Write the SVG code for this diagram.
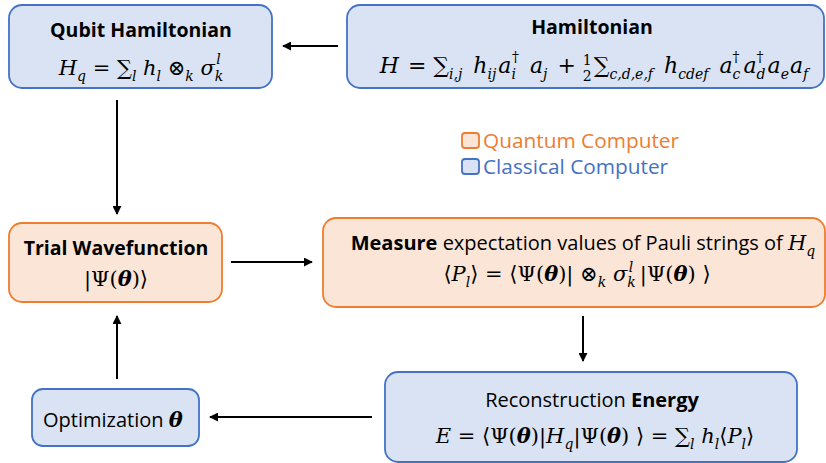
<svg xmlns="http://www.w3.org/2000/svg" width="826" height="463" viewBox="0 0 826 463">
<style>
.blue{fill:#DAE3F3;stroke:#4472C4;stroke-width:1.8}
.orange{fill:#FBE5D6;stroke:#ED7D31;stroke-width:1.8}
.t{font-family:"Open Sans","Noto Sans",sans-serif;font-size:20px;fill:#000}
.lg{font-size:20.8px}
.h{font-size:19.5px;font-weight:bold}
.b{font-weight:bold}
.m{font-family:"DejaVu Serif","Liberation Serif",serif;font-size:21px;fill:#000}
.m22{font-size:22px}
.i{font-style:italic}
.s{font-size:14px}
.bi{font-weight:bold;font-style:italic}
.conn line{stroke:#000;stroke-width:2}
</style>
<defs>
<marker id="ah" viewBox="0 0 10 10" refX="9" refY="5" markerWidth="4.5" markerHeight="4.5" orient="auto" markerUnits="strokeWidth">
<path d="M0,0 L10,5 L0,10 Z" fill="#000"/>
</marker>
</defs>

<g id="qubit-hamiltonian">
<rect class="blue" x="9" y="5" width="263" height="83" rx="13"/>
<text class="t h" x="141" y="37" text-anchor="middle">Qubit Hamiltonian</text>
<text class="m" x="141" y="75" text-anchor="middle"><tspan class="i">H</tspan><tspan class="s i" dy="6">q</tspan><tspan dy="-6"> = ∑</tspan><tspan class="s i" dy="6">l</tspan><tspan class="i" dy="-6"> h</tspan><tspan class="s i" dy="6">l</tspan><tspan dy="-6"> ⊗</tspan><tspan class="s i" dy="6">k</tspan><tspan class="i" dy="-6"> σ</tspan><tspan class="s i" dy="6">k</tspan><tspan class="s i" dx="-7" dy="-17">l</tspan></text>
</g>

<g id="hamiltonian">
<rect class="blue" x="347" y="5" width="477" height="83" rx="13"/>
<text class="t h" x="592" y="34" text-anchor="middle">Hamiltonian</text>
<text class="m m22" x="594" y="73" text-anchor="middle"><tspan class="i">H</tspan><tspan dx="2"> = ∑</tspan><tspan class="s i" dy="6">i,j</tspan><tspan class="i" dy="-6" dx="4"> h</tspan><tspan class="s i" dy="6">ij</tspan><tspan class="i" dy="-6" dx="2">a</tspan><tspan class="s i" dy="6">i</tspan><tspan class="s" dx="-4" dy="-17">†</tspan><tspan class="i" dy="11" dx="4"> a</tspan><tspan class="s i" dy="6">j</tspan><tspan dy="-6" dx="3"> +  </tspan><tspan class="s" dy="-8">1</tspan><tspan class="s" dx="-9" dy="16">2</tspan><tspan dy="-8" dx="2">∑</tspan><tspan class="s i" dy="6">c,d,e,f</tspan><tspan class="i" dy="-6" dx="4"> h</tspan><tspan class="s i" dy="6">cdef</tspan><tspan class="i" dy="-6" dx="4"> a</tspan><tspan class="s i" dy="6">c</tspan><tspan class="s" dx="-8" dy="-17">†</tspan><tspan class="i" dy="11" dx="4">a</tspan><tspan class="s i" dy="6">d</tspan><tspan class="s" dx="-9" dy="-17">†</tspan><tspan class="i" dy="11" dx="4">a</tspan><tspan class="s i" dy="6">e</tspan><tspan class="i" dy="-6" dx="1">a</tspan><tspan class="s i" dy="6">f</tspan></text>
</g>

<g id="legend">
<rect class="orange" x="462" y="133" width="17" height="15" rx="3"/>
<text class="t lg" x="483" y="148" style="fill:#ED7D31">Quantum Computer</text>
<rect class="blue" x="462" y="159" width="17" height="15" rx="3"/>
<text class="t lg" x="483" y="174" style="fill:#4472C4">Classical Computer</text>
</g>

<g id="trial-wavefunction">
<rect class="orange" x="9" y="223" width="213" height="79" rx="13"/>
<text class="t h" x="116" y="255" text-anchor="middle">Trial Wavefunction</text>
<text class="m" x="116" y="286" text-anchor="middle">|Ψ(<tspan class="bi">θ</tspan>)⟩</text>
</g>

<g id="measure">
<rect class="orange" x="323" y="218" width="502" height="89" rx="13"/>
<text class="t" x="583" y="250" text-anchor="middle"><tspan class="b">Measure</tspan> expectation values of Pauli strings of <tspan class="m i">H</tspan><tspan class="m s i" dy="6">q</tspan></text>
<text class="m" x="577" y="281" text-anchor="middle">⟨<tspan class="i">P</tspan><tspan class="s i" dy="6">l</tspan><tspan dy="-6">⟩ = ⟨Ψ(</tspan><tspan class="bi">θ</tspan><tspan>)| ⊗</tspan><tspan class="s i" dy="6">k</tspan><tspan class="i" dy="-6"> σ</tspan><tspan class="s i" dy="6">k</tspan><tspan class="s i" dx="-7" dy="-15">l</tspan><tspan dy="9"> |Ψ(</tspan><tspan class="bi">θ</tspan><tspan>) ⟩</tspan></text>
</g>

<g id="reconstruction-energy">
<rect class="blue" x="385" y="372" width="412" height="90" rx="13"/>
<text class="t" x="592" y="407" text-anchor="middle">Reconstruction <tspan class="b">Energy</tspan></text>
<text class="m" x="595" y="443" text-anchor="middle"><tspan class="i">E</tspan><tspan> = ⟨Ψ(</tspan><tspan class="bi">θ</tspan><tspan>)|</tspan><tspan class="i">H</tspan><tspan class="s i" dy="6">q</tspan><tspan dy="-6">|Ψ(</tspan><tspan class="bi">θ</tspan><tspan>) ⟩ = ∑</tspan><tspan class="s i" dy="6">l</tspan><tspan class="i" dy="-6"> h</tspan><tspan class="s i" dy="6">l</tspan><tspan dy="-6">⟨</tspan><tspan class="i">P</tspan><tspan class="s i" dy="6">l</tspan><tspan dy="-6">⟩</tspan></text>
</g>

<g id="optimization">
<rect class="blue" x="32" y="389" width="167" height="57" rx="11"/>
<text class="t" x="43" y="427">Optimization <tspan class="m bi">θ</tspan></text>
</g>

<g id="connectors" class="conn">
<line x1="338" y1="46" x2="283" y2="46" marker-end="url(#ah)"/>
<line x1="117" y1="100" x2="117" y2="214" marker-end="url(#ah)"/>
<line x1="231" y1="262" x2="312" y2="262" marker-end="url(#ah)"/>
<line x1="583" y1="316" x2="583" y2="361" marker-end="url(#ah)"/>
<line x1="372" y1="417" x2="210" y2="417" marker-end="url(#ah)"/>
<line x1="117" y1="379" x2="117" y2="316" marker-end="url(#ah)"/>
</g>
</svg>
